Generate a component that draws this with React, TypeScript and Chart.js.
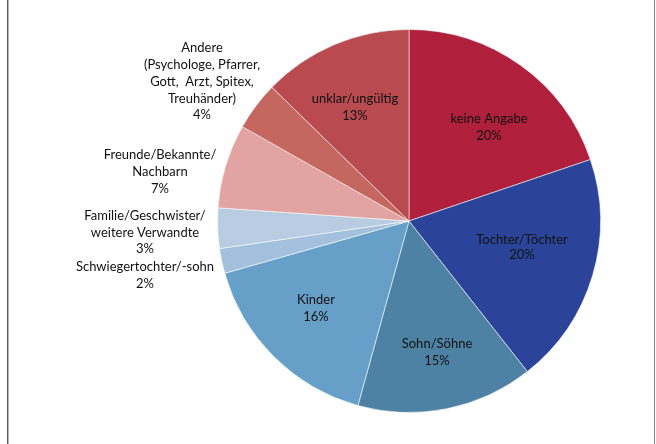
import React, { useEffect, useRef } from 'react';
import { Chart, registerables } from 'chart.js';

Chart.register(...registerables);

const categories = [
  'keine Angabe',
  'Tochter/Töchter',
  'Sohn/Söhne',
  'Kinder',
  'Schwiegertochter/-sohn',
  'Familie/Geschwister/weitere Verwandte',
  'Freunde/Bekannte/Nachbarn',
  'Andere (Psychologe, Pfarrer, Gott, Arzt, Spitex, Treuhänder)',
  'unklar/ungültig',
];

const shares = [19.8, 19.6, 14.9, 16.3, 2.1, 3.4, 7.1, 4.1, 12.7];

const percentLabels = ['20%', '20%', '15%', '16%', '2%', '3%', '7%', '4%', '13%'];

const labelLines: string[][] = [
  ['keine Angabe'],
  ['Tochter/Töchter'],
  ['Sohn/Söhne'],
  ['Kinder'],
  ['Schwiegertochter/-sohn'],
  ['Familie/Geschwister/', 'weitere Verwandte'],
  ['Freunde/Bekannte/', 'Nachbarn'],
  ['Andere', '(Psychologe, Pfarrer,', 'Gott,  Arzt, Spitex,', 'Treuhänder)'],
  ['unklar/ungültig'],
];

const sliceColors = [
  '#B0203C',
  '#2B4499',
  '#4E82A4',
  '#66A0C8',
  '#A3C0DC',
  '#B9CDE2',
  '#E2A4A2',
  '#C4675F',
  '#B94A50',
];

// label block placement relative to pie centre (first line y)
const labelOffsets = [
  { dx: 80, dy: -102, lh: 17 },
  { dx: 113, dy: 19, lh: 15 },
  { dx: 28, dy: 123, lh: 17 },
  { dx: -93, dy: 79, lh: 17 },
  { dx: -264, dy: 46, lh: 17 },
  { dx: -264, dy: -5, lh: 16.5 },
  { dx: -249, dy: -66, lh: 17 },
  { dx: -207, dy: -173, lh: 16.8 },
  { dx: -54, dy: -122, lh: 17 },
];

const FONT = '13px Lato, "Open Sans", sans-serif';

const labelPlugin = {
  id: 'sliceLabels',
  afterDatasetsDraw(chart: any) {
    const meta = chart.getDatasetMeta(0);
    const arc0 = meta.data[0];
    if (!arc0) return;
    const cx = arc0.x;
    const cy = arc0.y;
    const ctx = chart.ctx;
    ctx.save();
    ctx.font = FONT;
    ctx.fillStyle = '#111';
    ctx.textAlign = 'center';
    ctx.textBaseline = 'middle';
    labelLines.forEach((lines, i) => {
      const o = labelOffsets[i];
      const all = [...lines, percentLabels[i]];
      all.forEach((t, j) => {
        ctx.fillText(t, cx + o.dx, cy + o.dy + j * o.lh);
      });
    });
    ctx.restore();
  },
};

export default function App() {
  const ref = useRef<HTMLCanvasElement>(null);
  useEffect(() => {
    if (!ref.current) return;
    const chart = new Chart(ref.current, {
      type: 'pie',
      data: {
        labels: categories,
        datasets: [
          {
            data: shares,
            backgroundColor: sliceColors,
            borderColor: 'rgba(255,255,255,0.55)',
            borderWidth: 1,
          },
        ],
      },
      options: {
        responsive: false,
        animation: false,
        layout: { padding: { left: 170, right: 8, top: 29, bottom: 31 } },
        plugins: {
          legend: { display: false },
          tooltip: { enabled: false },
          title: { display: false },
        },
      },
      plugins: [labelPlugin],
    });
    return () => chart.destroy();
  }, []);

  return (
    <div style={{ position: 'fixed', left: 0, top: 0, width: 656, height: 444, background: '#fff' }}>
      <canvas ref={ref} width={656} height={444} style={{ position: 'absolute', left: 0, top: 0, width: 656, height: 444 }} />
      <div style={{ position: 'absolute', left: 7, top: 0, width: 1, height: 444, background: '#5a5a5a' }} />
      <div style={{ position: 'absolute', left: 8, top: 0, width: 1, height: 444, background: '#b5b5b5' }} />
      <div style={{ position: 'absolute', left: 654, top: 0, width: 1, height: 444, background: '#8a8a8a' }} />
    </div>
  );
}
